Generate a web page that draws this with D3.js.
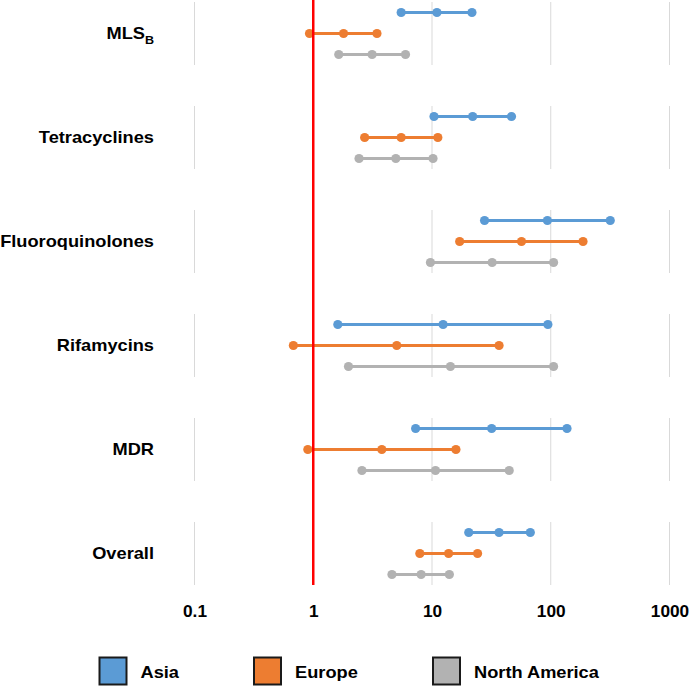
<!DOCTYPE html>
<html>
<head>
<meta charset="utf-8">
<script src="https://cdn.jsdelivr.net/npm/d3@7"></script>
<style>
  body { margin: 0; background: #fff; }
  text { font-family: "Liberation Sans", Arial, sans-serif; font-weight: bold; fill: #000; }
</style>
</head>
<body>
<script>
const categories = ["MLSB", "Tetracyclines", "Fluoroquinolones", "Rifamycins", "MDR", "Overall"];
const regions = ["Asia", "Europe", "North America"];
const colors = ["#5B9BD5", "#ED7D31", "#B2B2B2"];

// [low, estimate, high] per category
const asia = [[5.5, 11.0, 21.7], [10.4, 22.0, 46.7], [27.7, 93.7, 317], [1.61, 12.4, 94.6], [7.28, 31.8, 137], [20.4, 36.7, 67.3]];
const europe = [[0.93, 1.80, 3.44], [2.71, 5.50, 11.2], [17.1, 56.7, 187], [0.68, 5.05, 36.7], [0.90, 3.78, 15.9], [7.9, 13.8, 24.2]];
const northAmerica = [[1.64, 3.13, 5.98], [2.43, 4.96, 10.2], [9.7, 32.1, 105.6], [1.98, 14.3, 105.6], [2.57, 10.7, 44.7], [4.6, 8.1, 14.0]];
const tickValues = [0.1, 1, 10, 100, 1000];
const refValue = 1;

const w = 689, h = 686;
const seriesData = [asia, europe, northAmerica];
const stretch = "scale(1.14,1)";   // the source text is a little wide

const svg = d3.select("body").append("svg")
    .attr("width", w)
    .attr("height", h);

const x = d3.scaleLog()
    .domain([0.1, 1000])
    .range([194.5, 669.5]);

const y = d3.scaleBand()
    .domain(categories)
    .range([-18.5, 605.5]);

const row = d3.scalePoint()
    .domain(regions)
    .range([-21, 21]);

const center = function (c) { return y(c) + y.bandwidth() / 2; };

// broken vertical gridlines, one segment per category
categories.forEach(function (c) {
    svg.selectAll(null)
        .data(tickValues)
        .enter().append("line")
        .attr("x1", function (d) { return x(d); })
        .attr("x2", function (d) { return x(d); })
        .attr("y1", center(c) - 31.5)
        .attr("y2", center(c) + 31.5)
        .attr("stroke", "#d9d9d9")
        .attr("stroke-width", 1);
});

// category labels
const labels = svg.selectAll(".catLabel")
    .data(categories)
    .enter().append("g")
    .attr("class", "catLabel")
    .attr("transform", function (d) { return "translate(154," + (center(d) + 5.5) + ")"; })
    .append("text")
    .attr("transform", stretch)
    .attr("text-anchor", "end")
    .attr("font-size", "16px");

labels.each(function (d) {
    const t = d3.select(this);
    if (d === "MLSB") {
        t.append("tspan").text("MLS");
        t.append("tspan").text("B").attr("font-size", "11px").attr("dy", 5);
    } else {
        t.text(d);
    }
});

// series: range lines and dots
regions.forEach(function (r, i) {
    const g = svg.append("g").attr("class", "series");
    const vals = seriesData[i];
    g.selectAll("line")
        .data(vals)
        .enter().append("line")
        .attr("x1", function (d) { return x(d[0]); })
        .attr("x2", function (d) { return x(d[2]); })
        .attr("y1", function (d, j) { return center(categories[j]) + row(r); })
        .attr("y2", function (d, j) { return center(categories[j]) + row(r); })
        .attr("stroke", colors[i])
        .attr("stroke-width", 3);
    vals.forEach(function (v, j) {
        g.selectAll(null)
            .data(v)
            .enter().append("circle")
            .attr("cx", function (d) { return x(d); })
            .attr("cy", center(categories[j]) + row(r))
            .attr("r", 4.6)
            .attr("fill", colors[i]);
    });
});

// reference line at 1
svg.append("line")
    .attr("x1", x(refValue))
    .attr("x2", x(refValue))
    .attr("y1", 0)
    .attr("y2", center(categories[categories.length - 1]) + 31.5)
    .attr("stroke", "#ff0000")
    .attr("stroke-width", 2.5);

// x axis labels
const axis = svg.append("g")
    .attr("transform", "translate(0,600)")
    .call(d3.axisBottom(x)
        .tickValues(tickValues)
        .tickSize(0)
        .tickPadding(6)
        .tickFormat(function (d) { return String(d); }));
axis.select(".domain").remove();
axis.selectAll("text")
    .attr("font-size", "16px")
    .attr("font-family", "'Liberation Sans', Arial, sans-serif")
    .attr("font-weight", "bold")
    .attr("fill", "#000")
    .attr("transform", "scale(1.08,1)");

// legend
const legendX = [99.5, 254, 433];
const legend = svg.selectAll(".legendItem")
    .data(regions)
    .enter().append("g")
    .attr("class", "legendItem")
    .attr("transform", function (d, i) { return "translate(" + legendX[i] + ",657.5)"; });

legend.append("rect")
    .attr("width", 27)
    .attr("height", 27)
    .attr("fill", function (d, i) { return colors[i]; })
    .attr("stroke", "#1a1a1a")
    .attr("stroke-width", 2);

legend.append("text")
    .attr("transform", "translate(41,20) " + stretch)
    .attr("font-size", "16px")
    .text(function (d) { return d; });
</script>
</body>
</html>
